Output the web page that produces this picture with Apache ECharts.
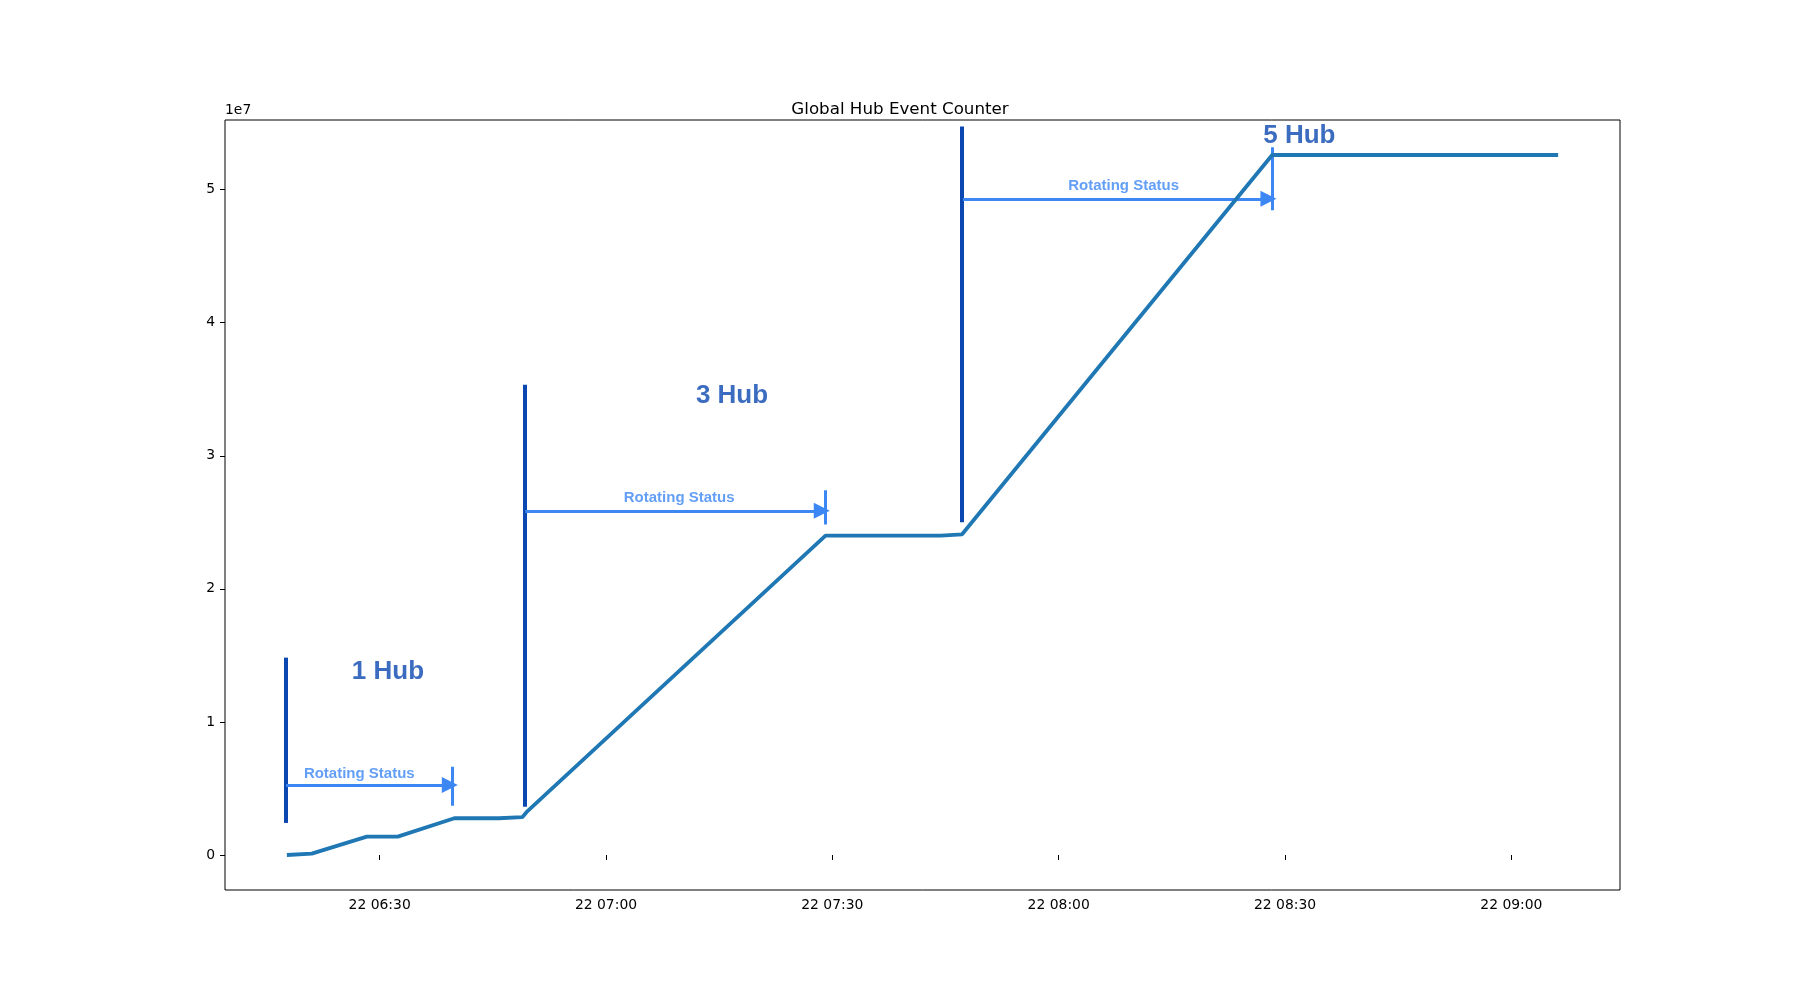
<!DOCTYPE html>
<html>
<head>
<meta charset="utf-8">
<script src="https://cdn.jsdelivr.net/npm/echarts@6/dist/echarts.min.js"></script>
<style>
  html, body { margin: 0; background: #fff; }
  #chart { width: 1800px; height: 1000px; }
</style>
</head>
<body>
<div id="chart"></div>
<script>
// minutes after 22 06:00, counter value
const minutes = [17.7, 21.0, 28.3, 32.4, 39.9, 45.8, 48.9, 49.6, 89.1, 104.4, 107.2, 148.3, 186.2];
const counts = [0, 0.01e7, 0.138e7, 0.138e7, 0.276e7, 0.276e7, 0.284e7, 0.33e7, 2.40e7, 2.40e7, 2.41e7, 5.26e7, 5.26e7];

const xTicks = [30, 60, 90, 120, 150, 180];
const xTickLabels = ['22 06:30', '22 07:00', '22 07:30', '22 08:00', '22 08:30', '22 09:00'];
const yTicks = [0, 1e7, 2e7, 3e7, 4e7, 5e7];

// annotation: hub change bars [x, yFrom, yTo]
const hubBars = [[17.5, 0.241e7, 1.483e7], [49.2, 0.362e7, 3.534e7], [107.2, 2.50e7, 5.474e7]];
// rotating arrows [xFrom, xTo, y], end ticks [x, yFrom, yTo]
const arrows = [[17.6, 39.3, 0.526e7], [49.3, 88.6, 2.586e7], [107.3, 147.8, 4.931e7]];
const arrowEnds = [[39.6, 0.371e7, 0.664e7], [89.1, 2.483e7, 2.741e7], [148.3, 4.845e7, 5.319e7]];
const statusLabels = [[27.3, 0.612e7], [69.7, 2.68e7], [128.6, 5.03e7]];
const hubLabels = [[31.1, 1.379e7, '1 Hub'], [76.7, 3.448e7, '3 Hub'], [151.9, 5.405e7, '5 Hub']];

const dark = '#0b47b0';
const light = '#3d87f5';

const chart = echarts.init(document.getElementById('chart'));
chart.setOption({
  animation: false,
  title: {
    text: 'Global Hub Event Counter', left: 'center', top: 96,
    textStyle: { fontFamily: 'DejaVu Sans', fontWeight: 'normal', fontSize: 16.7, color: '#000' }
  },
  graphic: [{ type: 'text', left: 225, top: 103,
    style: { text: '1e7', font: '13.9px DejaVu Sans', fill: '#000' } }],
  grid: { left: 225, right: 180, top: 120, bottom: 110, show: true, borderColor: '#000', borderWidth: 1 },
  xAxis: {
    type: 'value', min: 9.5, max: 194.4, splitLine: { show: false },
    axisLine: { show: false },
    axisTick: { show: true, customValues: xTicks, length: 5, lineStyle: { color: '#000' } },
    axisLabel: {
      customValues: xTicks, color: '#000', fontFamily: 'DejaVu Sans', fontSize: 13.9, margin: 8,
      formatter: v => xTickLabels[xTicks.indexOf(v)]
    }
  },
  yAxis: {
    type: 'value', min: -0.263e7, max: 5.523e7, splitLine: { show: false },
    axisLine: { show: false },
    axisTick: { show: true, customValues: yTicks, length: 5, lineStyle: { color: '#000' } },
    axisLabel: {
      customValues: yTicks, color: '#000', fontFamily: 'DejaVu Sans', fontSize: 13.9, margin: 10,
      formatter: v => String(Math.round(v / 1e7))
    }
  },
  series: [
    {
      type: 'line', data: minutes.map((m, i) => [m, counts[i]]), showSymbol: false,
      lineStyle: { color: '#1f77b4', width: 3.8 }
    },
    {
      type: 'lines', coordinateSystem: 'cartesian2d', z: 3,
      data: hubBars.map(b => ({ coords: [[b[0], b[1]], [b[0], b[2]]] })),
      lineStyle: { color: dark, width: 4, opacity: 1 }
    },
    {
      type: 'lines', coordinateSystem: 'cartesian2d', z: 3,
      symbol: ['none', 'triangle'], symbolSize: 16,
      data: arrows.map(a => ({ coords: [[a[0], a[2]], [a[1], a[2]]] })),
      lineStyle: { color: light, width: 3, opacity: 1 }
    },
    {
      type: 'lines', coordinateSystem: 'cartesian2d', z: 3,
      data: arrowEnds.map(b => ({ coords: [[b[0], b[1]], [b[0], b[2]]] })),
      lineStyle: { color: light, width: 3, opacity: 1 }
    },
    {
      type: 'scatter', symbolSize: 0, z: 4,
      data: statusLabels,
      label: { show: true, position: 'inside', formatter: 'Rotating Status',
        color: light, fontFamily: 'Liberation Sans', fontWeight: 'bold', fontSize: 15 }
    },
    {
      type: 'scatter', symbolSize: 0, z: 4,
      data: hubLabels.map(h => ({ value: [h[0], h[1]], name: h[2] })),
      label: { show: true, position: 'inside', formatter: p => p.name,
        color: dark, fontFamily: 'Liberation Sans', fontWeight: 'bold', fontSize: 26 }
    }
  ]
});
</script>
</body>
</html>
